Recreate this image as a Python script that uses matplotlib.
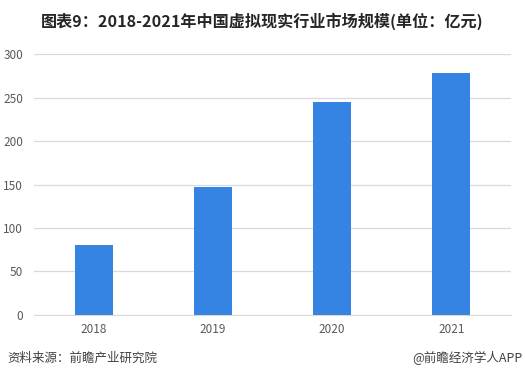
import matplotlib.pyplot as plt

plt.rcParams['font.family'] = ['Noto Sans CJK SC', 'DejaVu Sans']

years = ['2018', '2019', '2020', '2021']
market_size = [80, 147, 245, 278]
y_ticks = [0, 50, 100, 150, 200, 250, 300]

title = '图表9：2018-2021年中国虚拟现实行业市场规模(单位：亿元)'
source = '资料来源：前瞻产业研究院'
credit = '@前瞻经济学人APP'

fig = plt.figure(figsize=(5.25, 3.84), dpi=100)
ax = fig.add_axes([0.065, 0.18, 0.908, 0.679])

x = range(len(years))
ax.bar(x, market_size, width=0.32, color='#3584E4', zorder=3)

ax.set_xlim(-0.5, len(years) - 0.5)
ax.set_ylim(0, 300)
ax.set_yticks(y_ticks)
ax.set_xticks(list(x))
ax.set_xticklabels(years)
ax.grid(axis='y', color='#d9d9d9', linewidth=0.9, zorder=0)
for s in ['top', 'right', 'left']:
    ax.spines[s].set_visible(False)
ax.spines['bottom'].set_color('#d9d9d9')
ax.tick_params(axis='both', length=0, labelsize=8.5, labelcolor='#595959')
ax.tick_params(axis='y', pad=8)
ax.tick_params(axis='x', pad=6)

fig.text(0.5, 0.945, title, ha='center', va='center', fontsize=11.6,
         fontweight='bold', color='#262626')
fig.text(0.015, 0.068, source, ha='left', va='center', fontsize=9, color='#404040')
fig.text(0.995, 0.068, credit, ha='right', va='center', fontsize=9, color='#404040')

fig.savefig('out.png', dpi=100)
